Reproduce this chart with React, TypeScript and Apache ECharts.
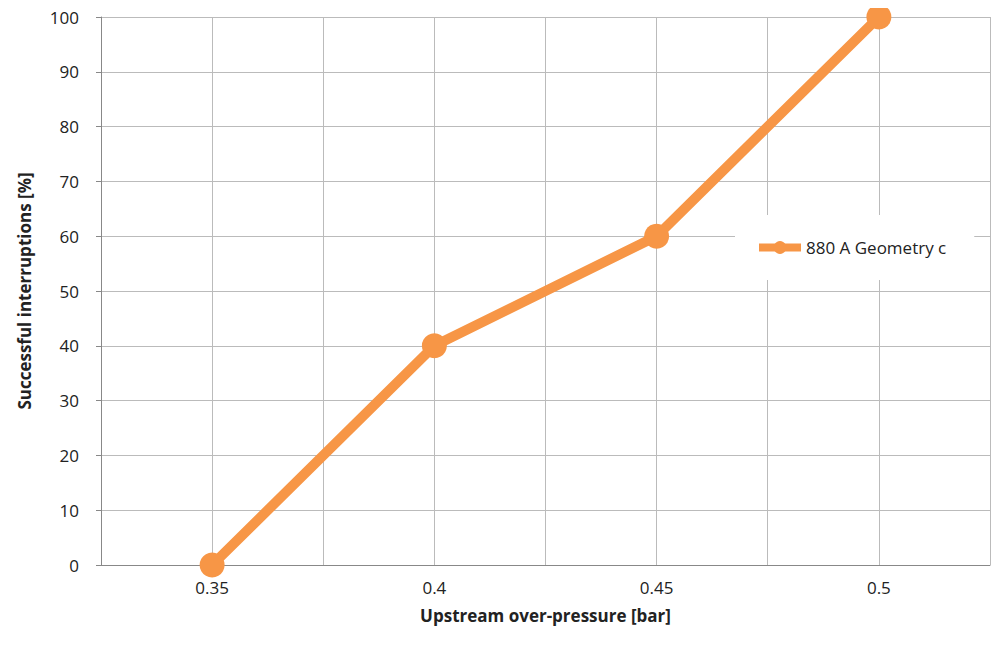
import { useEffect, useRef } from 'react'
import * as echarts from 'echarts'

const pressures = [0.35, 0.4, 0.45, 0.5]
const interruptions = [0, 40, 60, 100]
const seriesName = '880 A Geometry c'

export default function App() {
  const chartRef = useRef<HTMLDivElement>(null)

  useEffect(() => {
    if (!chartRef.current) return
    const chart = echarts.init(chartRef.current, null, { renderer: 'svg' })
    chart.setOption({
      animation: false,
      textStyle: { fontFamily: '"Open Sans", "Noto Sans", sans-serif' },
      grid: { left: 93, right: 3, top: 9, bottom: 89 },
      legend: {
        data: [seriesName],
        left: 727,
        top: 207,
        padding: [24, 28, 24, 20],
        backgroundColor: '#ffffff',
        itemWidth: 42,
        itemHeight: 16,
        itemGap: 2,
        textStyle: { fontSize: 17, color: '#222' },
        itemStyle: { color: '#F79646' },
        lineStyle: { width: 8, color: '#F79646' }
      },
      xAxis: {
        type: 'value',
        min: 0.325,
        max: 0.525,
        interval: 0.025,
        name: 'Upstream over-pressure [bar]',
        nameLocation: 'middle',
        nameGap: 42,
        nameTextStyle: { fontSize: 17, fontWeight: 'bold', color: '#222' },
        axisLine: { show: true, lineStyle: { color: '#888' } },
        axisTick: { show: false },
        axisLabel: {
          fontSize: 17,
          color: '#222',
          margin: 14,
          formatter: (v: number) => (Math.round(v * 1000) % 50 === 0 ? String(+v.toFixed(2)) : '')
        },
        splitLine: { show: true, lineStyle: { color: '#bbb' } }
      },
      yAxis: {
        type: 'value',
        min: 0,
        max: 100,
        interval: 10,
        name: 'Successful interruptions [%]',
        nameLocation: 'middle',
        nameGap: 68,
        nameTextStyle: { fontSize: 17, fontWeight: 'bold', color: '#222' },
        axisLine: { show: true, lineStyle: { color: '#888' } },
        axisLabel: { fontSize: 17, color: '#222', margin: 22 },
        splitLine: { show: true, lineStyle: { color: '#bbb' } }
      },
      series: [
        {
          name: seriesName,
          type: 'line',
          data: pressures.map((p, i) => [p, interruptions[i]]),
          symbol: 'circle',
          symbolSize: 25,
          lineStyle: { width: 10, color: '#F79646' },
          itemStyle: { color: '#F79646' }
        }
      ]
    })
    return () => chart.dispose()
  }, [])

  return <div ref={chartRef} style={{ width: 985, height: 646 }} />
}
